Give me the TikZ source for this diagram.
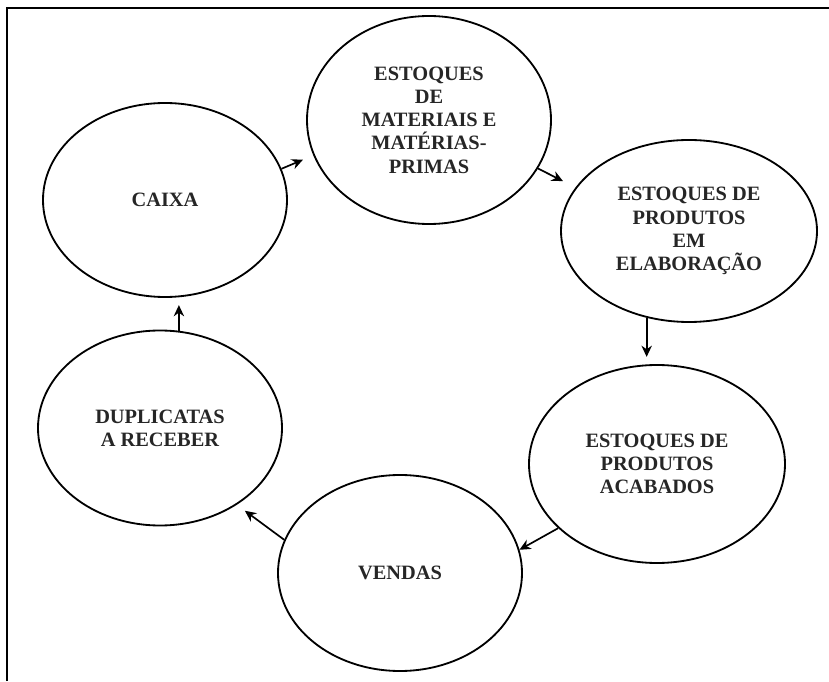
\documentclass[tikz,border=0pt]{standalone}
\usepackage{fontspec}
\setmainfont{Liberation Serif}
\usetikzlibrary{shapes.geometric,arrows.meta}

\begin{document}
\begin{tikzpicture}[line width=1.3pt,
    etapa/.style={draw, ellipse, inner sep=0pt, align=center, text=black!85,
        font=\bfseries\fontsize{14.5}{16.5}\selectfont},
    seta/.style={-{Stealth[length=2.8mm, width=2.6mm]}, line width=1.2pt}]
    \useasboundingbox (0,0) rectangle (20.725,17.025);
    \draw [line width=1.2pt] (0.175,0) -- (0.175,16.825) -- (20.725,16.825);
    \node[etapa, minimum width=6.1cm, minimum height=4.85cm] (caixa) at (4.125,12.025) {CAIXA};
    \node[etapa, minimum width=6.1cm, minimum height=5.2cm] (mat) at (10.725,14.025)
        {ESTOQUES\\DE\\MATERIAIS E\\MATÉRIAS-\\PRIMAS};
    \node[etapa, minimum width=6.4cm, minimum height=4.55cm] (elab) at (17.225,11.25)
        {ESTOQUES DE\\PRODUTOS\\EM\\ELABORAÇÃO};
    \node[etapa, minimum width=6.4cm, minimum height=4.95cm] (acab) at (16.425,5.425)
        {ESTOQUES DE\\PRODUTOS\\ACABADOS};
    \node[etapa, minimum width=6.1cm, minimum height=4.9cm] (vendas) at (10,2.7) {VENDAS};
    \node[etapa, minimum width=6.1cm, minimum height=4.875cm] (dup) at (4,6.325)
        {DUPLICATAS\\A RECEBER};
    \draw [seta, shorten >=0.28cm] (caixa.15) -- (mat.197);
    \draw [seta, shorten >=0.35cm] (mat.-24) -- (elab.159);
    \draw [seta, shorten >=0.18cm] (elab.244) -- (elab.244 |- acab.north);
    \draw [seta] (acab.213) -- (vendas.11);
    \draw [seta, shorten >=0.25cm] (vendas.164) -- (dup.-45);
    \draw [seta, shorten >=0.18cm] (dup.79) -- (dup.79 |- caixa.south);
\end{tikzpicture}
\end{document}
